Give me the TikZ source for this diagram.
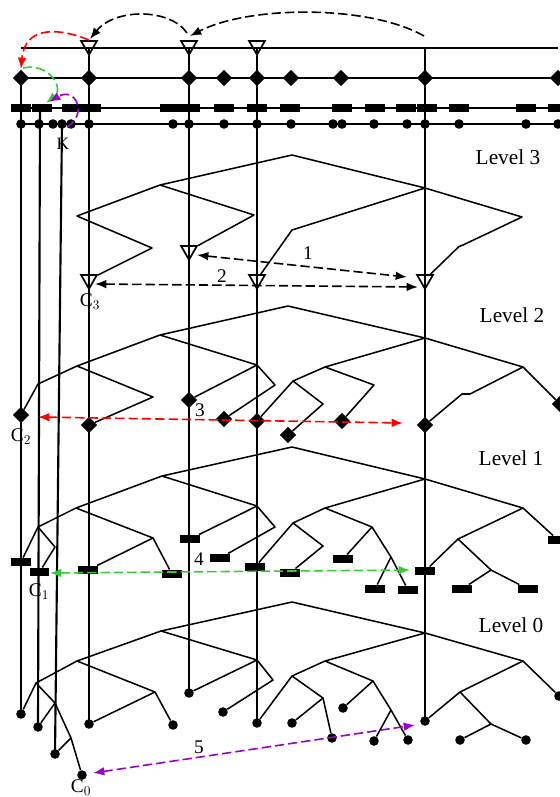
\documentclass[tikz,border=0pt]{standalone}
\usepackage{fontspec}
\setmainfont{Liberation Serif}
\usetikzlibrary{shapes.geometric,arrows.meta}
\definecolor{cred}{RGB}{255,0,0}
\definecolor{cgreen}{RGB}{51,204,51}
\definecolor{cpurple}{RGB}{153,0,204}
\begin{document}
\begin{tikzpicture}[x=0.75pt,y=-0.75pt,
 >={Latex[length=8.5pt,width=6.5pt]},
 vline/.style={line width=1.6pt},
 hline/.style={line width=1.6pt},
 tline/.style={line width=1.15pt,line join=round},
 dia/.style={diamond,fill=black,inner sep=0pt,minimum size=12.5pt},
 rct/.style={rectangle,fill=black,inner sep=0pt,minimum width=14.5pt,minimum height=6.3pt},
 dot/.style={circle,fill=black,inner sep=0pt,minimum size=7.2pt},
 tri/.style={regular polygon,regular polygon sides=3,shape border rotate=180,draw=black,line width=1.3pt,inner sep=0pt,minimum size=13.8pt},
 darr/.style={dash pattern=on 7pt off 3pt,line width=1.2pt},
 lbl/.style={font=\fontsize{14.5pt}{16pt}\selectfont,inner sep=0pt},
 lvl/.style={font=\fontsize{16pt}{18pt}\selectfont,inner sep=0pt},
]
\useasboundingbox (0,0) rectangle (560,797);

% ---------- top rows ----------
\foreach \x in {89,189,257} \node[tri] (T\x) at (\x,45.5) {};
\foreach \x in {21,89,189,224,257,291,341,425,558} \node[dia] (D\x) at (\x,78) {};
\foreach \x in {21,42,72,91,170,190,224,257,290,342,375,406,427,459,526,558} \node[rct] (R\x) at (\x,108) {};
\foreach \x in {21,39,53,62,71,89,173,189,224,257,291,333,342,374,407,425,459,526,558} \node[dot] (C\x) at (\x,124) {};

\coordinate (h1a) at (21,48); \coordinate (h1b) at (558,48);
\coordinate (h2b) at (560,78); \coordinate (h3a) at (12,108); \coordinate (h3b) at (560,108);
\coordinate (h4b) at (560,124);
\draw[hline] (h1a) -- (h1b);
\draw[hline] (D21.center) -- (h2b);
\draw[line width=1.3pt] (h3a) -- (h3b);
\draw[line width=1.3pt] (C21.center) -- (h4b);

% ---------- level 3 ----------
\node[tri] (t89) at (89,279.5) {};
\node[tri] (t189) at (189,250.5) {};
\node[tri] (t257) at (257,279.5) {};
\node[tri] (t425) at (425,279.5) {};
\coordinate (A3) at (292,155); \coordinate (B3) at (160,185);
\coordinate (M3) at (425,188); \coordinate (R3) at (522,217);
\coordinate (L3a) at (77,216); \coordinate (L3b) at (152,248);
\coordinate (R3a) at (254,215); \coordinate (J3) at (292,230);
\coordinate (R3k1) at (463,245); \coordinate (R3k2) at (459,246.5);
\draw[tline] (B3) -- (A3) -- (M3) -- (R3) -- (R3k1) -- (R3k2) -- (t425);
\draw[tline] (B3) -- (L3a) -- (L3b) -- (t89);
\draw[tline] (B3) -- (R3a) -- (t189);
\draw[tline] (M3) -- (J3) -- (t257);

% ---------- level 2 ----------
\node[dia] (d21) at (21,415) {};
\node[dia] (d89) at (89,425) {};
\node[dia] (d189) at (189,400) {};
\node[dia] (d224) at (224,419) {};
\node[dia] (d257) at (257,421) {};
\node[dia] (d288) at (288,435) {};
\node[dia] (d342) at (342,421) {};
\node[dia] (d425) at (425,425) {};
\node[dia] (d558) at (560,404) {};
\coordinate (A2) at (288,306); \coordinate (B2) at (160,335);
\coordinate (M2) at (425,338); \coordinate (R2) at (523,367);
\coordinate (L2a) at (77,366); \coordinate (L2b) at (38,384); \coordinate (L2c) at (153,397);
\coordinate (R2a) at (257,365); \coordinate (R2b) at (275,385);
\coordinate (M2a) at (325,367); \coordinate (M2b) at (293,381);
\coordinate (M2c) at (374,385); \coordinate (M2d) at (323,404);
\coordinate (R2k1) at (470,394); \coordinate (R2k2) at (462,394);
\draw[tline] (B2) -- (A2) -- (M2) -- (R2) -- (R2k1) -- (R2k2) -- (d425);
\draw[tline] (R2) -- (d558);
\draw[tline] (B2) -- (L2a) -- (L2b) -- (d21);
\draw[tline] (L2a) -- (L2c) -- (d89);
\draw[tline] (B2) -- (R2a) -- (d189);
\draw[tline] (R2a) -- (R2b) -- (d224);
\draw[tline] (M2) -- (M2a) -- (M2b) -- (d257);
\draw[tline] (M2b) -- (M2d) -- (d288);
\draw[tline] (M2a) -- (M2c) -- (d342);

% ---------- level 1 ----------
\node[rct] (r21) at (21,562) {};
\node[rct] (r39) at (39.5,572) {};
\node[rct] (r88) at (88,570) {};
\node[rct] (r172) at (172,574) {};
\node[rct] (r190) at (190,539) {};
\node[rct] (r220) at (220,558) {};
\node[rct] (r255) at (255,567) {};
\node[rct] (r290) at (290,573) {};
\node[rct] (r343) at (343,559) {};
\node[rct] (r375) at (375,589) {};
\node[rct] (r408) at (408,590) {};
\node[rct] (r425) at (425,571) {};
\node[rct] (r462) at (462,589) {};
\node[rct] (r528) at (528,589) {};
\node[rct] (r558) at (558,540) {};
\coordinate (A1) at (292,447); \coordinate (B1) at (162,476);
\coordinate (M1) at (425,479); \coordinate (R1) at (523,508);
\coordinate (L1a) at (76,508); \coordinate (L1b) at (38,527);
\coordinate (L1c) at (55,547); \coordinate (L1d) at (153,538);
\coordinate (R1a) at (257,506); \coordinate (R1b) at (275,527);
\coordinate (M1a) at (325,508); \coordinate (M1b) at (293,523);
\coordinate (M1c) at (372,527); \coordinate (M1d) at (323,546);
\coordinate (M1e) at (391,557);
\coordinate (R1c) at (458,539); \coordinate (R1d) at (491,570);
\draw[tline] (B1) -- (A1) -- (M1) -- (R1) -- (r558);
\draw[tline] (R1) -- (R1c) -- (r425);
\draw[tline] (R1c) -- (R1d) -- (r462);
\draw[tline] (R1d) -- (r528);
\draw[tline] (B1) -- (L1a) -- (L1b) -- (r21);
\draw[tline] (L1b) -- (L1c) -- (r39);
\draw[tline] (L1a) -- (L1d) -- (r88);
\draw[tline] (L1d) -- (r172);
\draw[tline] (B1) -- (R1a) -- (r190);
\draw[tline] (R1a) -- (R1b) -- (r220);
\draw[tline] (M1) -- (M1a) -- (M1b) -- (r255);
\draw[tline] (M1b) -- (M1d) -- (r290);
\draw[tline] (M1a) -- (M1c) -- (r343);
\draw[tline] (M1c) -- (M1e) -- (r375);
\draw[tline] (M1e) -- (r408);

% ---------- level 0 ----------
\node[dot] (c21) at (21,714) {};
\node[dot] (c38) at (38,727) {};
\node[dot] (c55) at (55,754) {};
\node[dot] (c82) at (82,775) {};
\node[dot] (c89) at (89,724) {};
\node[dot] (c173) at (173,725) {};
\node[dot] (c190) at (189,693) {};
\node[dot] (c223) at (223,712) {};
\node[dot] (c257) at (257,723) {};
\node[dot] (c292) at (292,723) {};
\node[dot] (c332) at (332,738) {};
\node[dot] (c343) at (343,708) {};
\node[dot] (c374) at (374,741) {};
\node[dot] (c408) at (408,740) {};
\node[dot] (c425) at (425,721) {};
\node[dot] (c460) at (460,740) {};
\node[dot] (c526) at (526,740) {};
\node[dot] (c558) at (559,696) {};
\coordinate (A0) at (292,602); \coordinate (B0) at (161,631);
\coordinate (M0) at (425,633); \coordinate (R0) at (523,661);
\coordinate (L0a) at (77,661); \coordinate (L0b) at (36,683);
\coordinate (L0c) at (55,703); \coordinate (L0d) at (71,738);
\coordinate (L0e) at (155,692);
\coordinate (R0a) at (257,660); \coordinate (R0b) at (273,680);
\coordinate (M0a) at (325,661); \coordinate (M0b) at (292,676);
\coordinate (M0c) at (373,681); \coordinate (M0d) at (323,698);
\coordinate (M0e) at (391,710);
\coordinate (R0c) at (460,692); \coordinate (R0d) at (491,724);
\draw[tline] (B0) -- (A0) -- (M0) -- (R0) -- (c558);
\draw[tline] (R0) -- (R0c) -- (c425);
\draw[tline] (R0c) -- (R0d) -- (c460);
\draw[tline] (R0d) -- (c526);
\draw[tline] (B0) -- (L0a) -- (L0b) -- (c21);
\draw[tline] (L0b) -- (L0c) -- (c38);
\draw[tline] (L0c) -- (L0d) -- (c82);
\draw[tline] (L0d) -- (c55);
\draw[tline] (L0a) -- (L0e) -- (c89);
\draw[tline] (L0e) -- (c173);
\draw[tline] (B0) -- (R0a) -- (c190);
\draw[tline] (R0a) -- (R0b) -- (c223);
\draw[tline] (M0) -- (M0a) -- (M0b) -- (c257);
\draw[tline] (M0b) -- (M0d) -- (c292);
\draw[tline] (M0d) -- (c332);
\draw[tline] (M0a) -- (M0c) -- (c343);
\draw[tline] (M0c) -- (M0e) -- (c374);
\draw[tline] (M0e) -- (c408);

% ---------- verticals ----------
\coordinate (v89) at (89,48); \coordinate (v189) at (189,48);
\coordinate (v257) at (257,48); \coordinate (v425) at (425,48);
\coordinate (v39) at (40,108);
\draw[vline] (D21.center) -- (c21.center);
\draw[vline] (v39) -- (c38.center);
\draw[vline] (C62.center) -- (c55.center);
\draw[vline] (v89) -- (c89.center);
\draw[vline] (v189) -- (c190.center);
\draw[vline] (v257) -- (c257.center);
\draw[vline] (v425) -- (c425.center);

% ---------- top dashed arcs ----------
\coordinate (k0) at (424,36); \coordinate (k1) at (190,36);
\coordinate (k2) at (187,33); \coordinate (k3) at (90,39);
\coordinate (k4) at (89,40); \coordinate (k5) at (21,69);
\coordinate (k6) at (23,68); \coordinate (k7) at (46,103);
\coordinate (k8) at (67,127); \coordinate (k9) at (49,102);
\draw[darr,->] (k0) .. controls (370,5) and (250,5) .. (k1);
\draw[darr,->] (k2) .. controls (170,8) and (115,8) .. (k3);
\draw[darr,->,cred] (k4) .. controls (60,28) and (25,25) .. (k5);
\draw[darr,->,cgreen] (k6) .. controls (48,62) and (65,88) .. (k7);
\draw[darr,->,cpurple] (k8) .. controls (88,115) and (76,86) .. (k9);

% ---------- level dashed arrows ----------
\coordinate (a1l) at (197,255); \coordinate (a1r) at (407,277);
\coordinate (a2l) at (95,284); \coordinate (a2r) at (418,287);
\coordinate (a3l) at (38,417); \coordinate (a3r) at (403,423);
\coordinate (a4l) at (50,573); \coordinate (a4r) at (410,570);
\coordinate (a5l) at (93,773); \coordinate (a5r) at (415,725);
\draw[darr,<->] (a1l) -- (a1r);
\draw[darr,<->] (a2l) -- (a2r);
\draw[darr,<->,cred] (a3l) -- (a3r);
\draw[darr,<->,cgreen] (a4l) -- (a4r);
\draw[darr,<->,cpurple] (a5l) -- (a5r);

% ---------- labels ----------
\node[lbl] (n1) at (308,253) {1};
\node[lbl] (n2) at (222,276) {2};
\node[lbl] (n3) at (200,410) {3};
\node[lbl] (n4) at (199,559) {4};
\node[lbl] (n5) at (199,747) {5};
\node[lbl,font=\fontsize{13pt}{14pt}\selectfont] (nK) at (63,144) {K};
\node[lbl] (nC3) at (90,302) {C$_3$};
\node[lbl] (nC2) at (21,437) {C$_2$};
\node[lbl] (nC1) at (39,592) {C$_1$};
\node[lbl] (nC0) at (81,788) {C$_0$};
\node[lvl] (lv3) at (508,157) {Level 3};
\node[lvl] (lv2) at (512,315) {Level 2};
\node[lvl] (lv1) at (511,458) {Level 1};
\node[lvl] (lv0) at (511,625) {Level 0};
\end{tikzpicture}
\end{document}
